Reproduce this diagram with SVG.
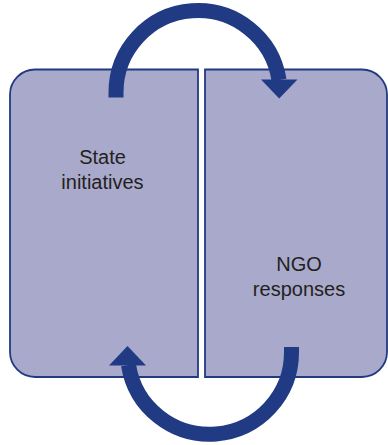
<svg xmlns="http://www.w3.org/2000/svg" width="388" height="445" viewBox="0 0 388 445">
  <style>
    .box { fill: #a9a9cb; stroke: #213a80; stroke-width: 1.8; }
    .lbl { font-family: "Liberation Sans", Arial, sans-serif; font-size: 20px; fill: #231f20; text-anchor: middle; }
    .shaft { fill: none; stroke: #213a84; stroke-width: 15; }
    .head { fill: #213a84; }
  </style>
  <rect width="388" height="445" fill="#ffffff"/>
  <g id="state">
    <path class="box" d="M198,69.5 H35 A25,25 0 0 0 10,94.5 V352 A25,25 0 0 0 35,377 H198 Z"/>
    <text class="lbl" x="102.5" y="163.5">State</text>
    <text class="lbl" x="102.5" y="189">initiatives</text>
  </g>
  <g id="ngo">
    <path class="box" d="M205,69.5 H362 A25,25 0 0 1 387,94.5 V352 A25,25 0 0 1 362,377 H205 Z"/>
    <text class="lbl" x="299" y="271">NGO</text>
    <text class="lbl" x="299" y="296">responses</text>
  </g>
  <g id="connectors">
    <path class="shaft" d="M116,97.5 L116,92.5 A82,82 0 0 1 279.04,80"/>
    <polygon class="head" points="261,79.5 297.5,79.5 279.2,98.5"/>
    <path class="shaft" d="M291.5,347 L291.5,352 A82,82 0 0 1 128.5,365"/>
    <polygon class="head" points="109,365.5 146,365.5 127.5,346"/>
  </g>
</svg>
